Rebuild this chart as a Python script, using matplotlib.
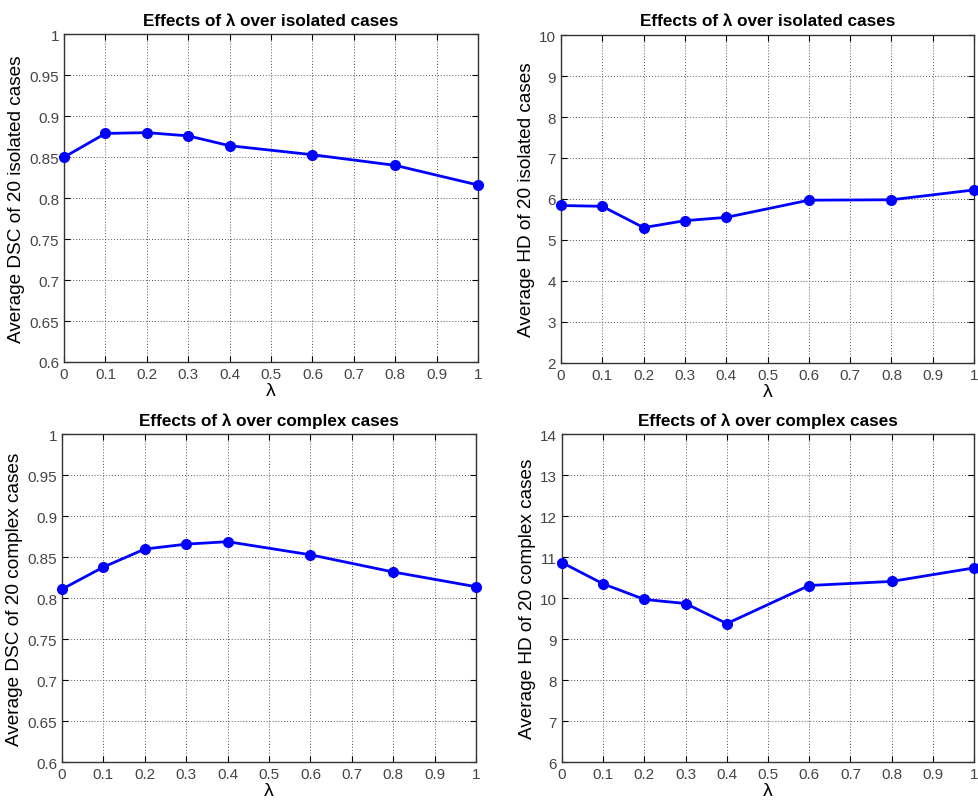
import matplotlib
matplotlib.use("Agg")
import matplotlib.pyplot as plt
import numpy as np

plt.rcParams['font.family'] = ['Liberation Sans', 'DejaVu Sans']

lam = [0, 0.1, 0.2, 0.3, 0.4, 0.6, 0.8, 1.0]
dsc_isolated = [0.850, 0.879, 0.880, 0.876, 0.864, 0.853, 0.840, 0.816]
hd_isolated = [5.84, 5.82, 5.30, 5.47, 5.55, 5.97, 5.98, 6.22]
dsc_complex = [0.811, 0.838, 0.860, 0.866, 0.869, 0.853, 0.832, 0.814]
hd_complex = [10.87, 10.35, 9.97, 9.87, 9.38, 10.31, 10.41, 10.74]

xticks = [0, 0.1, 0.2, 0.3, 0.4, 0.5, 0.6, 0.7, 0.8, 0.9, 1]
xticklabels = ['0', '0.1', '0.2', '0.3', '0.4', '0.5', '0.6', '0.7', '0.8', '0.9', '1']
dsc_ticks = [0.6, 0.65, 0.7, 0.75, 0.8, 0.85, 0.9, 0.95, 1]
dsc_ticklabels = ['0.6', '0.65', '0.7', '0.75', '0.8', '0.85', '0.9', '0.95', '1']
hd_iso_ticks = [2, 3, 4, 5, 6, 7, 8, 9, 10]
hd_cpx_ticks = [6, 7, 8, 9, 10, 11, 12, 13, 14]

title_iso = 'Effects of λ over isolated cases'
title_cpx = 'Effects of λ over complex cases'

fig = plt.figure(figsize=(9.79, 8.03), dpi=100)

panels = [
    ([0.0654, 0.548, 0.423, 0.408], dsc_isolated, dsc_ticks, dsc_ticklabels, (0.6, 1.0),
     'Average DSC of 20 isolated cases', title_iso),
    ([0.573, 0.547, 0.422, 0.408], hd_isolated, hd_iso_ticks, [str(t) for t in hd_iso_ticks], (2, 10),
     'Average HD of 20 isolated cases', title_iso),
    ([0.0633, 0.0498, 0.423, 0.408], dsc_complex, dsc_ticks, dsc_ticklabels, (0.6, 1.0),
     'Average DSC of 20 complex cases', title_cpx),
    ([0.574, 0.0498, 0.421, 0.408], hd_complex, hd_cpx_ticks, [str(t) for t in hd_cpx_ticks], (6, 14),
     'Average HD of 20 complex cases', title_cpx),
]

for rect, vals, yt, ytl, ylim, ylabel, title in panels:
    ax = fig.add_axes(rect)
    ax.plot(lam, vals, color='#0000ff', lw=2, marker='o', markersize=7, zorder=3, clip_on=False)
    ax.set_xlim(0, 1)
    ax.set_ylim(*ylim)
    ax.set_xticks(xticks)
    ax.set_xticklabels(xticklabels)
    ax.set_yticks(yt)
    ax.set_yticklabels(ytl)
    ax.grid(True, linestyle=(0, (1, 2)), color='#555555', linewidth=0.7)
    ax.tick_params(direction='in', top=True, right=True, labelsize=11, labelcolor='#444444',
                   length=4, width=0.8)
    for s in ax.spines.values():
        s.set_linewidth(1.0)
        s.set_color('#333333')
    ax.set_ylabel(ylabel, fontsize=13.7, labelpad=3)
    ax.set_xlabel('λ', fontsize=14, labelpad=1)
    ax.set_title(title, fontsize=12.3, fontweight='bold', pad=7)

fig.savefig('out.png', dpi=100)
